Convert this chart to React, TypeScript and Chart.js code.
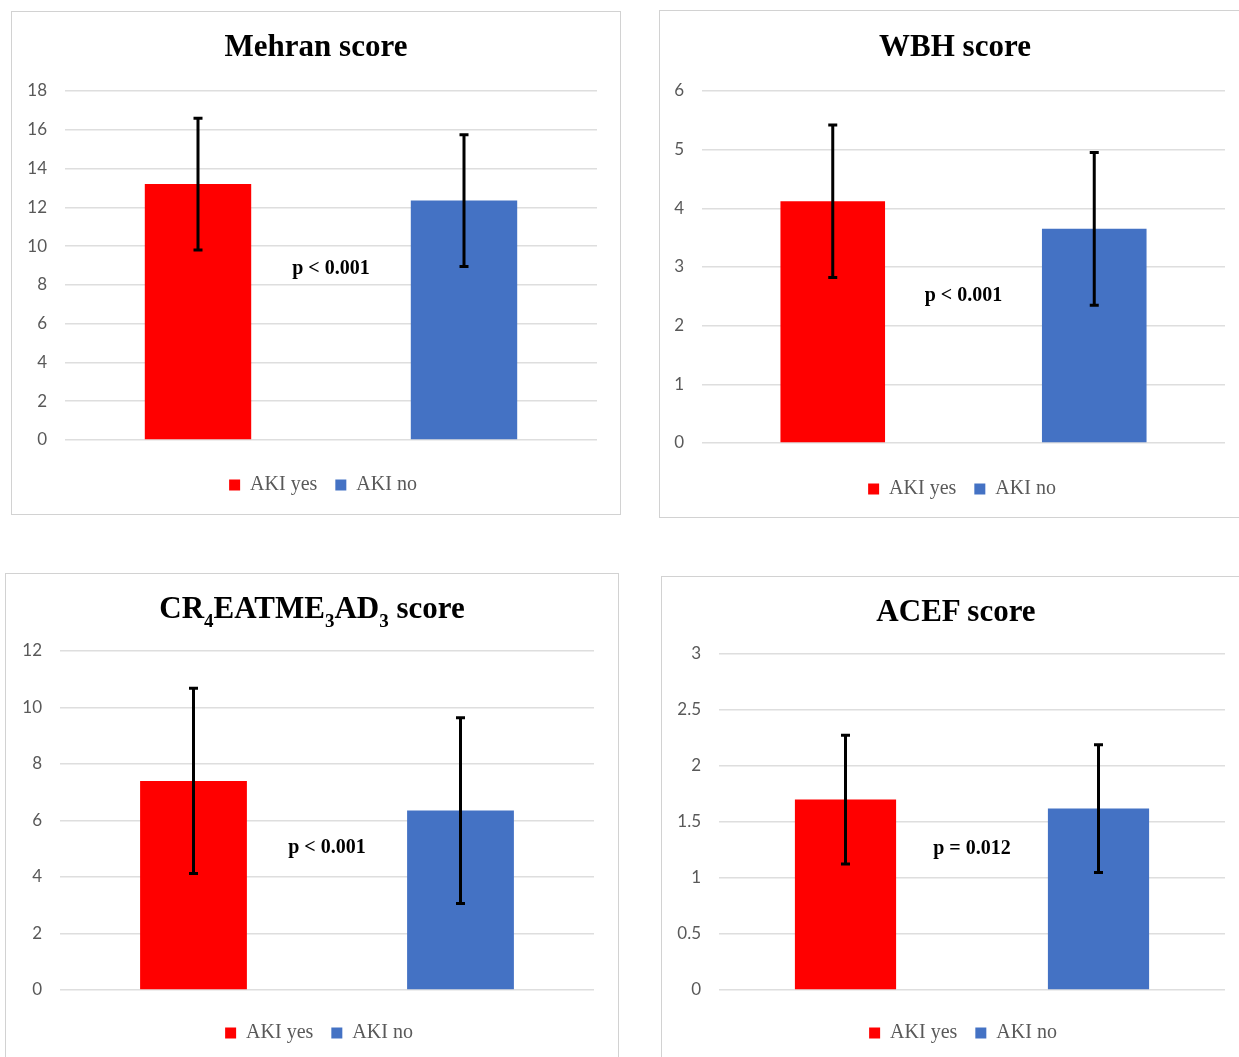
import React, { useEffect, useRef } from "react";
import { Chart, registerables } from "chart.js";

Chart.register(...registerables);

// ---- data ----
const seriesLabels = ["AKI yes", "AKI no"];
const seriesColors = ["#FF0000", "#4472C4"];

const mehranMeans = [13.2, 12.35];
const mehranSD = [3.4, 3.4];

const wbhMeans = [4.12, 3.65];
const wbhSD = [1.3, 1.3];

const cr4Means = [7.4, 6.35];
const cr4SD = [3.28, 3.29];

const acefMeans = [1.7, 1.62];
const acefSD = [0.575, 0.57];

const pTexts = ["p < 0.001", "p < 0.001", "p < 0.001", "p = 0.012"];
const yMaxes = [18, 6, 12, 3];
const ySteps = [2, 1, 2, 0.5];

// ---- layout ----
const LEG_FONT = 20;
const LEG_PAD = 18;
const LEG_SHIFT = 7;
const TICK_COLOR = "#595959";

type PanelProps = {
  title: React.ReactNode;
  means: number[];
  sds: number[];
  pText: string;
  yMax: number;
  yStep: number;
  left: number;
  top: number;
  w: number;
  h: number;
  chartL: number;
  chartR: number;
  chartT: number;
  chartB: number;
  legendY: number;
  titleY: number;
  pFrac: number;
};

function Panel(props: PanelProps) {
  const ref = useRef<HTMLCanvasElement | null>(null);
  const { title, means, sds, pText, yMax, yStep, left, top, w, h, chartL, chartR, chartT, chartB, legendY, titleY, pFrac } = props;

  useEffect(() => {
    if (!ref.current) return;
    const gapX = legendY - LEG_FONT / 2 - LEG_PAD - chartB;
    const legendH = LEG_FONT + LEG_PAD + 10;
    const padBottom = h - (chartB + gapX + legendH);

    const overlay = {
      id: "errorBarsAndP",
      afterLayout(chart: any) {
        const lg = chart.legend;
        if (lg) {
          lg.left = LEG_SHIFT;
          lg.right = w + LEG_SHIFT;
        }
      },
      afterDatasetsDraw(chart: any) {
        const ctx = chart.ctx;
        const ys = chart.scales.y;
        ctx.save();
        ctx.strokeStyle = "#000";
        ctx.lineWidth = 3;
        chart.data.datasets.forEach((ds: any, i: number) => {
          const meta = chart.getDatasetMeta(i);
          const bar = meta.data[0];
          if (!bar) return;
          const x = bar.x;
          const v = ds.data[0];
          const sd = sds[i];
          const yTop = ys.getPixelForValue(v + sd);
          const yBot = ys.getPixelForValue(v - sd);
          ctx.beginPath();
          ctx.moveTo(x, yTop);
          ctx.lineTo(x, yBot);
          ctx.moveTo(x - 4.5, yTop);
          ctx.lineTo(x + 4.5, yTop);
          ctx.moveTo(x - 4.5, yBot);
          ctx.lineTo(x + 4.5, yBot);
          ctx.stroke();
        });
        const ca = chart.chartArea;
        ctx.fillStyle = "#000";
        ctx.font = 'bold 20px "Liberation Serif"';
        ctx.textAlign = "center";
        ctx.textBaseline = "middle";
        ctx.fillText(pText, (ca.left + ca.right) / 2, ca.bottom - pFrac * (ca.bottom - ca.top));
        ctx.restore();
      },
    };

    const chart = new Chart(ref.current, {
      type: "bar",
      data: {
        labels: [""],
        datasets: seriesLabels.map((lab, i) => ({
          label: lab,
          data: [means[i]],
          backgroundColor: seriesColors[i],
          borderWidth: 0,
          categoryPercentage: 1,
          barPercentage: 0.4,
        })),
      },
      options: {
        responsive: false,
        animation: false,
        devicePixelRatio: 1,
        layout: { padding: { left: 0, top: chartT, right: w - chartR, bottom: padBottom } },
        plugins: {
          legend: {
            position: "bottom",
            fullSize: false,
            labels: {
              boxWidth: 11,
              boxHeight: 11,
              padding: LEG_PAD,
              color: TICK_COLOR,
              font: { family: '"Liberation Serif"', size: LEG_FONT },
            },
          },
          tooltip: { enabled: false },
          title: { display: false },
        },
        scales: {
          x: {
            display: true,
            grid: { display: false },
            border: { display: false },
            ticks: { display: false },
            afterFit: (s: any) => {
              s.height = gapX;
            },
          },
          y: {
            min: 0,
            max: yMax,
            ticks: {
              stepSize: yStep,
              padding: 18,
              color: TICK_COLOR,
              font: { family: "Lato", size: 17 },
              callback: (v: any) => String(+v),
            },
            grid: { color: "#dedede", lineWidth: 1.5, drawTicks: false },
            border: { display: false },
            afterFit: (s: any) => {
              s.width = chartL;
            },
          },
        },
      } as any,
      plugins: [overlay],
    });
    return () => chart.destroy();
  }, []);

  return (
    <div style={{ position: "absolute", left, top, width: w, height: h }}>
      <div
        style={{
          position: "absolute",
          left: 0,
          top: 0,
          width: w,
          height: h,
          border: "1px solid #d2d2d2",
          boxSizing: "border-box",
        }}
      />
      <canvas
        ref={ref}
        width={w}
        height={h}
        style={{ position: "absolute", left: 0, top: 0, width: w, height: h }}
      />
      <div
        style={{
          position: "absolute",
          left: 0,
          top: titleY - 20,
          width: w,
          height: 40,
          lineHeight: "40px",
          textAlign: "center",
          fontFamily: '"Liberation Serif"',
          fontWeight: "bold",
          fontSize: 31,
          color: "#000",
          whiteSpace: "nowrap",
        }}
      >
        {title}
      </div>
    </div>
  );
}

const Sub = ({ children }: { children: React.ReactNode }) => (
  <span style={{ fontSize: 19, position: "relative", top: 9 }}>{children}</span>
);

export default function App() {
  const panels: PanelProps[] = [
    {
      title: "Mehran score",
      means: mehranMeans,
      sds: mehranSD,
      pText: pTexts[0],
      yMax: yMaxes[0],
      yStep: ySteps[0],
      left: 11, top: 11, w: 610, h: 504,
      chartL: 54, chartR: 586, chartT: 80, chartB: 429,
      legendY: 474, titleY: 35, pFrac: 0.49,
    },
    {
      title: "WBH score",
      means: wbhMeans,
      sds: wbhSD,
      pText: pTexts[1],
      yMax: yMaxes[1],
      yStep: ySteps[1],
      left: 659, top: 10, w: 592, h: 508,
      chartL: 43, chartR: 566, chartT: 81, chartB: 433,
      legendY: 479, titleY: 36, pFrac: 0.418,
    },
    {
      title: (
        <span>
          CR<Sub>4</Sub>EATME<Sub>3</Sub>AD<Sub>3</Sub> score
        </span>
      ),
      means: cr4Means,
      sds: cr4SD,
      pText: pTexts[2],
      yMax: yMaxes[2],
      yStep: ySteps[2],
      left: 5, top: 573, w: 614, h: 500,
      chartL: 55, chartR: 589, chartT: 78, chartB: 417,
      legendY: 460, titleY: 35, pFrac: 0.42,
    },
    {
      title: "ACEF score",
      means: acefMeans,
      sds: acefSD,
      pText: pTexts[3],
      yMax: yMaxes[3],
      yStep: ySteps[3],
      left: 661, top: 576, w: 590, h: 500,
      chartL: 58, chartR: 564, chartT: 78, chartB: 414,
      legendY: 457, titleY: 35, pFrac: 0.42,
    },
  ];
  return (
    <div
      style={{
        position: "absolute",
        left: 0,
        top: 0,
        width: 1239,
        height: 1057,
        overflow: "hidden",
        background: "#fff",
      }}
    >
      {panels.map((p, i) => (
        <Panel key={i} {...p} />
      ))}
    </div>
  );
}
